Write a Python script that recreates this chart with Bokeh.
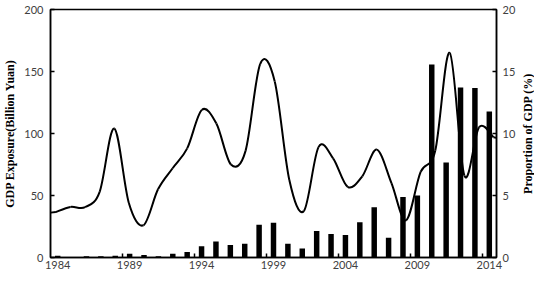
from bokeh.plotting import figure
from bokeh.models import Range1d, LinearAxis, FixedTicker, Title
from bokeh.layouts import row
from bokeh.embed import file_html
from bokeh.resources import INLINE

years = list(range(1984, 2015))
exposure = [1.5, 0.5, 1, 1, 1.5, 3, 2, 1, 3, 4.5, 9, 13, 10, 11, 26.5, 28,
            11, 7.3, 21.3, 19, 18.2, 28.4, 40.6, 15.9, 48.7, 50,
            155.7, 76.6, 137, 136.7, 117.7]
proportion = [3.67, 4.08, 4.06, 5.3, 10.4, 4.4, 2.6, 5.5, 7.2, 8.8, 11.9,
              10.8, 7.5, 8.6, 15.6, 14.2, 6.25, 3.75, 8.9, 8.0, 5.7, 6.55,
              8.7, 6.0, 3.0, 6.9, 8.6, 16.5, 6.6, 10.5, 9.7]
left_ticks = [0, 50, 100, 150, 200]
right_ticks = [0, 5, 10, 15, 20]
year_ticks = [1984, 1989, 1994, 1999, 2004, 2009, 2014]
left_title = "GDP Exposure(Billion Yuan)"
right_title = "Proportion of GDP (%)"

TICK_FONT = "Lato"
TICK_COLOR = "#404040"
LABEL_FONT = "Liberation Serif"

W1, W2, H = 518, 16, 274
BL, BR, BT, BB = 46, 18, 9, 17
p = figure(width=W1, height=H, output_backend="svg", toolbar_location=None,
           x_range=Range1d(years[0] - 0.5, years[-1] + 0.5),
           y_range=Range1d(left_ticks[0], left_ticks[-1]),
           min_border_left=BL, min_border_right=BR, min_border_top=BT,
           min_border_bottom=BB)
# the curve's points sit on their own (slightly shifted) horizontal scale
p.extra_x_ranges = {"line": Range1d(years[0] - 0.37, years[-1] + 0.2)}
p.extra_y_ranges = {"pct": Range1d(right_ticks[0], right_ticks[-1])}
p.grid.visible = False
p.outline_line_color = "black"
p.outline_line_width = 1.5
p.background_fill_color = "white"
p.border_fill_color = "white"

p.vbar(x=years, top=exposure, width=0.38, fill_color="black", line_color=None)

# smooth (Excel-like) curve through the yearly points, drawn as cubic Beziers
n = len(years)
x0, y0, x1, y1, cx0, cy0, cx1, cy1 = [], [], [], [], [], [], [], []
for i in range(n - 1):
    xm, ym = (years[i - 1], proportion[i - 1]) if i > 0 else (years[i], proportion[i])
    xa, ya = years[i], proportion[i]
    xb, yb = years[i + 1], proportion[i + 1]
    xp, yp = (years[i + 2], proportion[i + 2]) if i + 2 < n else (xb, yb)
    x0.append(xa); y0.append(ya); x1.append(xb); y1.append(yb)
    cx0.append(xa + (xb - xm) / 6); cy0.append(ya + (yb - ym) / 6)
    cx1.append(xb - (xp - xa) / 6); cy1.append(yb - (yp - ya) / 6)
p.bezier(x0=x0, y0=y0, x1=x1, y1=y1, cx0=cx0, cy0=cy0, cx1=cx1, cy1=cy1,
         x_range_name="line", y_range_name="pct", line_color="black", line_width=2)
# short end stubs continuing the end tangents to the frame edges
lr = p.extra_x_ranges["line"]
s0 = (proportion[1] - proportion[0]) / 3
s1 = (proportion[-1] - proportion[-2]) / 3
p.segment(x0=[lr.start, years[-1]],
          y0=[proportion[0] - s0 * (years[0] - lr.start), proportion[-1]],
          x1=[years[0], lr.end],
          y1=[proportion[0], proportion[-1] + s1 * (lr.end - years[-1])],
          x_range_name="line", y_range_name="pct", line_color="black", line_width=2)

# axes
bx = p.xaxis[0]
bx.ticker = FixedTicker(ticks=year_ticks, minor_ticks=[t - 0.5 for t in year_ticks[1:]])
bx.major_tick_in = 0
bx.major_tick_out = 0
bx.minor_tick_in = 4
bx.minor_tick_out = 0
bx.minor_tick_line_width = 1.5
bx.minor_tick_line_color = "black"
bx.major_label_standoff = 3

ly = p.yaxis[0]
ly.ticker = FixedTicker(ticks=left_ticks)
ly.axis_label = left_title
ly.axis_label_standoff = 4
ly.axis_label_text_font = LABEL_FONT
ly.axis_label_text_font_style = "bold"
ly.axis_label_text_font_size = "12px"
ly.axis_label_text_color = "black"
ly.minor_tick_line_color = None
ly.major_tick_in = 4
ly.major_tick_out = 0
ly.major_label_standoff = 7

ry = LinearAxis(y_range_name="pct", ticker=FixedTicker(ticks=right_ticks))
ry.minor_tick_line_color = None
ry.major_tick_in = 4
ry.major_tick_out = 0
ry.major_label_standoff = 6
p.add_layout(ry, "right")

for ax in (bx, ly, ry):
    ax.axis_line_color = "black"
    ax.axis_line_width = 1.5
    ax.major_tick_line_color = "black"
    ax.major_tick_line_width = 1.5
    ax.major_label_text_font = TICK_FONT
    ax.major_label_text_font_size = "11px"
    ax.major_label_text_color = TICK_COLOR

# narrow companion strip that carries the right-hand title (reads bottom to top)
p2 = figure(width=W2, height=H, output_backend="svg", toolbar_location=None,
            min_border_left=0, min_border_right=0, min_border_top=BT,
            min_border_bottom=BB)
p2.axis.visible = False
p2.grid.visible = False
p2.outline_line_color = None
p2.background_fill_color = "white"
p2.border_fill_color = "white"
p2.add_layout(Title(text=right_title, align="center", standoff=0,
                    text_font=LABEL_FONT, text_font_style="bold",
                    text_font_size="12px", text_color="black"), "left")

open("out.html", "w").write(file_html(row(p, p2), INLINE))
